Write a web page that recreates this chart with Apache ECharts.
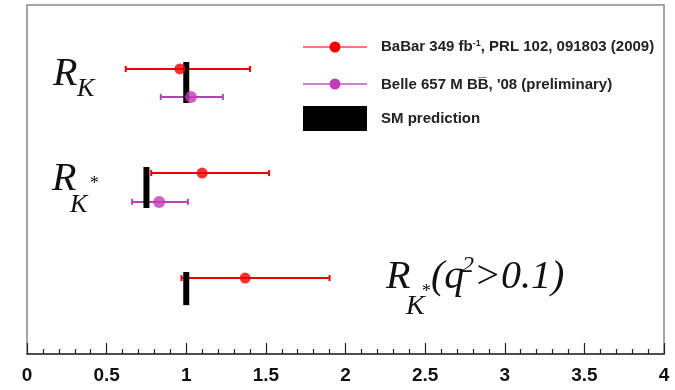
<!DOCTYPE html>
<html>
<head>
<meta charset="utf-8">
<script src="https://cdn.jsdelivr.net/npm/echarts@6/dist/echarts.min.js"></script>
<style>
  html, body { margin: 0; padding: 0; background: #fff; }
  #chart { width: 675px; height: 390px; }
</style>
</head>
<body>
<div id="chart"></div>
<script>
// x tick labels
var xTicks = ["0", "0.5", "1", "1.5", "2", "2.5", "3", "3.5", "4"];

// BaBar 349 fb-1 : R_K, R_K*, R_K*(q2>0.1)
var babarVal = [0.96, 1.10, 1.37];
var babarLo = [0.62, 0.78, 0.97];
var babarHi = [1.40, 1.52, 1.90];
var babarRow = [2.2, 5.78, 9.39];

// Belle 657 M BB : R_K, R_K*
var belleVal = [1.03, 0.83];
var belleLo = [0.84, 0.66];
var belleHi = [1.23, 1.01];
var belleRow = [3.16, 6.77];

// SM prediction
var smVal = [1.0, 0.75, 1.0];
var smTop = [1.96, 5.57, 9.18];
var smBottom = [3.37, 6.98, 10.32];

var RED = "#f00000";
var MAG = "#c23cb8";

var chart = echarts.init(document.getElementById("chart"));

function errorBar(color) {
  return function (params, api) {
    var y = api.value(3);
    var lo = api.coord([api.value(1), y]);
    var hi = api.coord([api.value(2), y]);
    var h = 3;
    var st = { stroke: color, lineWidth: 2 };
    return {
      type: "group",
      children: [
        { type: "line", shape: { x1: lo[0], y1: lo[1], x2: hi[0], y2: hi[1] }, style: st },
        { type: "line", shape: { x1: lo[0], y1: lo[1] - h, x2: lo[0], y2: lo[1] + h }, style: st },
        { type: "line", shape: { x1: hi[0], y1: hi[1] - h, x2: hi[0], y2: hi[1] + h }, style: st }
      ]
    };
  };
}

var babarBars = babarVal.map(function (v, i) { return [v, babarLo[i], babarHi[i], babarRow[i]]; });
var belleBars = belleVal.map(function (v, i) { return [v, belleLo[i], belleHi[i], belleRow[i]]; });
var smData = smVal.map(function (v, i) { return [v, smTop[i], smBottom[i]]; });

var serif = "'Liberation Serif', 'DejaVu Serif', serif";
function lab(text, x, y, size, align) {
  return {
    type: "text", x: x, y: y, silent: true,
    style: {
      text: text, fontFamily: serif, fontStyle: "italic", fontSize: size,
      fill: "#111", align: align || "left", verticalAlign: "middle"
    }
  };
}

var legFont = "'Liberation Sans', Arial, sans-serif";

chart.setOption({
  animation: false,
  grid: { left: 27, right: 11, top: 5, bottom: 36, show: true, borderColor: "#888", borderWidth: 1.5 },
  xAxis: {
    type: "value", min: 0, max: 4, interval: 0.5, position: "bottom",
    axisLine: { show: true, onZero: false, lineStyle: { color: "#333", width: 1.5 } },
    axisTick: { show: true, inside: true, length: 11, lineStyle: { color: "#222", width: 1.2 } },
    minorTick: { show: true, splitNumber: 5, length: 5, lineStyle: { color: "#222", width: 1.2 } },
    splitLine: { show: false },
    axisLabel: {
      margin: 12, fontSize: 19, fontWeight: "bold", color: "#111", fontFamily: legFont,
      formatter: function (v) { return xTicks[Math.round(v * 2)]; }
    }
  },
  yAxis: { type: "value", min: 0, max: 12, inverse: true, show: false },
  series: [
    { type: "custom", renderItem: errorBar(RED), data: babarBars, encode: { x: 0, y: 3 }, z: 2 },
    { type: "custom", renderItem: errorBar(MAG), data: belleBars, encode: { x: 0, y: 3 }, z: 2 },
    {
      type: "custom", z: 3, data: smData, encode: { x: 0, y: [1, 2] },
      renderItem: function (params, api) {
        var a = api.coord([api.value(0), api.value(1)]);
        var b = api.coord([api.value(0), api.value(2)]);
        return { type: "rect", shape: { x: a[0] - 3, y: a[1], width: 6, height: b[1] - a[1] }, style: { fill: "#000" } };
      }
    },
    { type: "scatter", z: 4, symbolSize: 11, itemStyle: { color: RED }, data: babarVal.map(function (v, i) { return [v, babarRow[i]]; }) },
    { type: "scatter", z: 4, symbolSize: 12, itemStyle: { color: MAG }, data: belleVal.map(function (v, i) { return [v, belleRow[i]]; }) }
  ],
  graphic: [
    // row labels
    lab("R", 53, 74, 40), lab("K", 77, 89, 26),
    lab("R", 52, 179, 40), lab("K", 70, 205, 26), lab("*", 89, 184, 18),
    lab("R", 386, 277, 40), lab("K", 406, 307, 28), lab("*", 421, 292, 18),
    lab("(q", 431, 277, 40), lab("2", 462, 266, 24), lab(">0.1)", 474, 277, 40),
    // legend
    { type: "line", shape: { x1: 303, y1: 47, x2: 367, y2: 47 }, style: { stroke: "#f27a7a", lineWidth: 2 } },
    { type: "circle", shape: { cx: 335, cy: 47, r: 5.5 }, style: { fill: RED } },
    { type: "line", shape: { x1: 303, y1: 84, x2: 367, y2: 84 }, style: { stroke: "#d77bd0", lineWidth: 2 } },
    { type: "circle", shape: { cx: 335, cy: 84, r: 5.5 }, style: { fill: MAG } },
    { type: "rect", shape: { x: 303, y: 106, width: 64, height: 25 }, style: { fill: "#000" } },
    {
      type: "text", x: 381, y: 47,
      style: {
        text: "BaBar 349 fb{sup|-1}, PRL 102, 091803 (2009)",
        rich: { sup: { fontSize: 9, fontWeight: "bold", fill: "#222", fontFamily: legFont, verticalAlign: "top" } },
        fontFamily: legFont, fontSize: 15, fontWeight: "bold", fill: "#222", verticalAlign: "middle"
      }
    },
    {
      type: "text", x: 381, y: 85,
      style: { text: "Belle 657 M BB\u0305, '08 (preliminary)", fontFamily: legFont, fontSize: 15, fontWeight: "bold", fill: "#222", verticalAlign: "middle" }
    },
    {
      type: "text", x: 381, y: 119,
      style: { text: "SM prediction", fontFamily: legFont, fontSize: 15, fontWeight: "bold", fill: "#222", verticalAlign: "middle" }
    }
  ]
});
</script>
</body>
</html>
